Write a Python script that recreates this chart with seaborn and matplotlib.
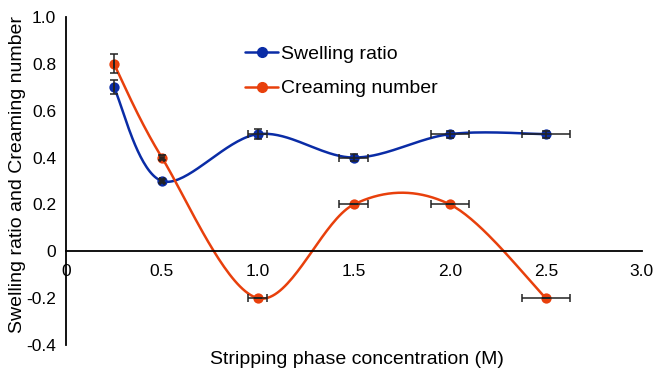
import matplotlib
matplotlib.use("Agg")
import matplotlib.pyplot as plt
import numpy as np
import pandas as pd
import seaborn as sns
from matplotlib.lines import Line2D

# Data
conc = [0.25, 0.5, 1.0, 1.5, 2.0, 2.5]
swelling = [0.70, 0.30, 0.50, 0.40, 0.50, 0.50]
creaming = [0.80, 0.40, -0.20, 0.20, 0.20, -0.20]
swelling_yerr = [0.03, 0.01, 0.02, 0.015, 0.015, 0.015]
creaming_yerr = [0.04, 0.01, 0.0, 0.0, 0.0, 0.0]
conc_xerr = [0.0, 0.01, 0.05, 0.075, 0.1, 0.125]

x_ticks = [0, 0.5, 1.0, 1.5, 2.0, 2.5, 3.0]
x_ticklabels = ["0", "0.5", "1.0", "1.5", "2.0", "2.5", "3.0"]
y_ticks = [-0.4, -0.2, 0, 0.2, 0.4, 0.6, 0.8, 1.0]
y_ticklabels = ["-0.4", "-0.2", "0", "0.2", "0.4", "0.6", "0.8", "1.0"]

blue = "#0a2ca6"
orange = "#e8400c"


def smooth(xs, ys, n=40):
    # Excel-style smoothed line (Catmull-Rom through the points)
    p = np.column_stack([xs, ys]).astype(float)
    p = np.vstack([p[0], p, p[-1]])
    out = []
    for i in range(1, len(p) - 2):
        p0, p1, p2, p3 = p[i - 1], p[i], p[i + 1], p[i + 2]
        c1 = p1 + (p2 - p0) / 6
        c2 = p2 - (p3 - p1) / 6
        t = np.linspace(0, 1, n)[:, None]
        seg = ((1 - t) ** 3) * p1 + 3 * ((1 - t) ** 2) * t * c1 + 3 * (1 - t) * t ** 2 * c2 + t ** 3 * p2
        out.append(seg)
    seg = np.vstack(out)
    return pd.DataFrame({"x": seg[:, 0], "y": seg[:, 1]})


sns.set_theme(style="white")
plt.rcParams["font.family"] = ["Liberation Sans", "DejaVu Sans"]

fig, ax = plt.subplots(figsize=(6.59, 3.69), dpi=100)
fig.subplots_adjust(left=0.1, right=0.974, bottom=0.065, top=0.954)

for ys, yerr, col in [(swelling, swelling_yerr, blue), (creaming, creaming_yerr, orange)]:
    sm = smooth(conc, ys)
    sns.lineplot(data=sm, x="x", y="y", sort=False, color=col, linewidth=1.8, ax=ax, zorder=2)
    sns.scatterplot(x=conc, y=ys, color=col, s=55, edgecolor=col, linewidth=0, ax=ax, zorder=3)
    ax.errorbar(conc, ys, xerr=conc_xerr, yerr=yerr, fmt="none", ecolor="#222222",
                elinewidth=1.1, capsize=3, capthick=1.1, zorder=4)

ax.set_xlim(0, 3.0)
ax.set_ylim(-0.4, 1.0)
ax.set_xticks(x_ticks)
ax.set_xticklabels(x_ticklabels)
ax.set_yticks(y_ticks)
ax.set_yticklabels(y_ticklabels)
ax.tick_params(axis="both", length=0, labelsize=12.5, labelcolor="black")
ax.tick_params(axis="y", pad=7)
ax.tick_params(axis="x", pad=9.5)

for s in ["top", "right"]:
    ax.spines[s].set_visible(False)
ax.spines["left"].set_position(("data", 0))
ax.spines["bottom"].set_position(("data", 0))
ax.spines["left"].set_color("black")
ax.spines["bottom"].set_color("black")
ax.spines["left"].set_linewidth(1.3)
ax.spines["bottom"].set_linewidth(1.3)

ax.set_xlabel("Stripping phase concentration (M)", fontsize=14, color="black")
ax.set_ylabel("Swelling ratio and Creaming number", fontsize=14, color="black")
ax.xaxis.set_label_coords(0.505, -0.018)
ax.yaxis.set_label_coords(-0.069, 0.52)

handles = [
    Line2D([], [], color=blue, lw=1.8, marker="o", markersize=7),
    Line2D([], [], color=orange, lw=1.8, marker="o", markersize=7),
]
leg = ax.legend(handles, ["Swelling ratio", "Creaming number"], loc="upper left",
                bbox_to_anchor=(0.281, 0.966), frameon=False, fontsize=14,
                handlelength=1.7, handletextpad=0.15, labelspacing=0.85)
for t in leg.get_texts():
    t.set_color("black")

fig.savefig("out.png", dpi=100)
